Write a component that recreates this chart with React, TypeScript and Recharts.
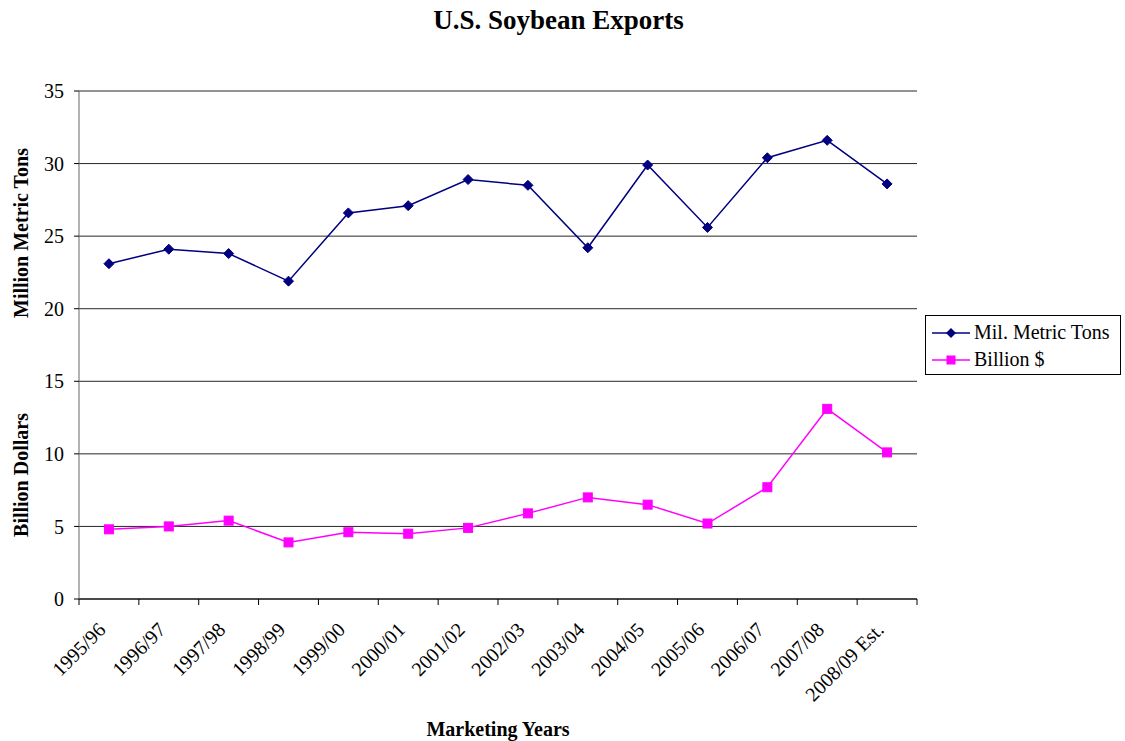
import { LineChart, Line, XAxis, YAxis, CartesianGrid } from 'recharts';

const years = [
  '1995/96', '1996/97', '1997/98', '1998/99', '1999/00', '2000/01', '2001/02',
  '2002/03', '2003/04', '2004/05', '2005/06', '2006/07', '2007/08', '2008/09 Est.',
];
const tons = [23.1, 24.1, 23.8, 21.9, 26.6, 27.1, 28.9, 28.5, 24.2, 29.9, 25.6, 30.4, 31.6, 28.6];
const dollars = [4.8, 5.0, 5.4, 3.9, 4.6, 4.5, 4.9, 5.9, 7.0, 6.5, 5.2, 7.7, 13.1, 10.1];
const yTicks = [0, 5, 10, 15, 20, 25, 30, 35];

const data = years.map((year, i) => ({ year, tons: tons[i], dollars: dollars[i] }));

const NAVY = '#000080';
const MAGENTA = '#FF00FF';
const FONT = '"Liberation Serif", "Times New Roman", serif';

const PLOT_LEFT = 79;
const PLOT_RIGHT = 917;
const HALF_BAND = (PLOT_RIGHT - PLOT_LEFT) / years.length / 2;

const Diamond = ({ cx, cy }: any) => (
  <polygon
    points={`${cx},${cy - 5} ${cx + 5},${cy} ${cx},${cy + 5} ${cx - 5},${cy}`}
    fill={NAVY}
    stroke={NAVY}
  />
);

const Square = ({ cx, cy }: any) => (
  <rect x={cx - 4.5} y={cy - 4.5} width={9} height={9} fill={MAGENTA} stroke={MAGENTA} />
);

const YearTick = ({ x, y, payload, index }: any) => (
  <g>
    <line x1={x - HALF_BAND} x2={x - HALF_BAND} y1={y - 8} y2={y - 2} stroke="#000" />
    {index === years.length - 1 && (
      <line x1={x + HALF_BAND} x2={x + HALF_BAND} y1={y - 8} y2={y - 2} stroke="#000" />
    )}
    <text
      x={x - 2}
      y={y + 24}
      transform={`rotate(-45, ${x - 2}, ${y + 24})`}
      textAnchor="end"
      fontFamily={FONT}
      fontSize={20}
      fill="#000"
    >
      {payload.value}
    </text>
  </g>
);

const YTitles = () => (
  <g fontFamily={FONT} fontSize={20} fontWeight="bold" fill="#000">
    <text x={28} y={233} transform="rotate(-90, 28, 233)" textAnchor="middle">
      Million Metric Tons
    </text>
    <text x={28} y={475} transform="rotate(-90, 28, 475)" textAnchor="middle">
      Billion Dollars
    </text>
  </g>
);

const legendItems = [
  { name: 'Mil. Metric Tons', color: NAVY, shape: 'diamond' },
  { name: 'Billion $', color: MAGENTA, shape: 'square' },
];

const LegendBox = () => (
  <div
    style={{
      position: 'absolute',
      left: 925,
      top: 315,
      border: '1px solid #000',
      width: 196,
      height: 60,
      boxSizing: 'border-box',
      padding: '3px 0 0 6px',
      fontFamily: FONT,
      fontSize: 20,
      color: '#000',
      background: '#fff',
    }}
  >
    {legendItems.map((item) => (
      <div key={item.name} style={{ display: 'flex', alignItems: 'center', height: 27 }}>
        <svg width={38} height={14} style={{ marginRight: 4 }}>
          <line x1={0} x2={38} y1={7} y2={7} stroke={item.color} strokeWidth={1.5} />
          {item.shape === 'diamond' ? (
            <polygon points="19,2 24,7 19,12 14,7" fill={item.color} />
          ) : (
            <rect x={14.5} y={2.5} width={9} height={9} fill={item.color} />
          )}
        </svg>
        <span>{item.name}</span>
      </div>
    ))}
  </div>
);

export default function App() {
  return (
    <div style={{ position: 'absolute', left: 0, top: 0, width: 1125, height: 741, background: '#fff' }}>
      <div
        style={{
          position: 'absolute',
          left: 0,
          top: 5,
          width: 1117,
          textAlign: 'center',
          fontFamily: FONT,
          fontSize: 27,
          fontWeight: 'bold',
        }}
      >
        U.S. Soybean Exports
      </div>
      <LineChart
        width={1125}
        height={741}
        data={data}
        margin={{ top: 91, right: 1125 - PLOT_RIGHT, left: PLOT_LEFT - 40, bottom: 42 }}
      >
        <CartesianGrid horizontal vertical={false} stroke="#000" strokeOpacity={0.85} />
        <XAxis
          dataKey="year"
          interval={0}
          height={100}
          padding={{ left: HALF_BAND, right: HALF_BAND }}
          tickLine={false}
          axisLine={{ stroke: '#000' }}
          tick={<YearTick />}
          label={({ viewBox }: any) => (
            <text
              x={viewBox.x + viewBox.width / 2}
              y={736}
              textAnchor="middle"
              fontFamily={FONT}
              fontSize={20}
              fontWeight="bold"
              fill="#000"
            >
              Marketing Years
            </text>
          )}
        />
        <YAxis
          width={40}
          domain={[0, 35]}
          ticks={yTicks}
          interval={0}
          axisLine={{ stroke: '#666' }}
          tickLine={{ stroke: '#000' }}
          tickSize={5}
          tickMargin={10}
          tick={{ fontFamily: FONT, fontSize: 20, fill: '#000' }}
          label={() => <YTitles />}
        />
        <Line
          type="linear"
          dataKey="tons"
          name="Mil. Metric Tons"
          stroke={NAVY}
          strokeWidth={1.5}
          dot={<Diamond />}
          isAnimationActive={false}
        />
        <Line
          type="linear"
          dataKey="dollars"
          name="Billion $"
          stroke={MAGENTA}
          strokeWidth={1.5}
          dot={<Square />}
          isAnimationActive={false}
        />
      </LineChart>
      <LegendBox />
    </div>
  );
}
